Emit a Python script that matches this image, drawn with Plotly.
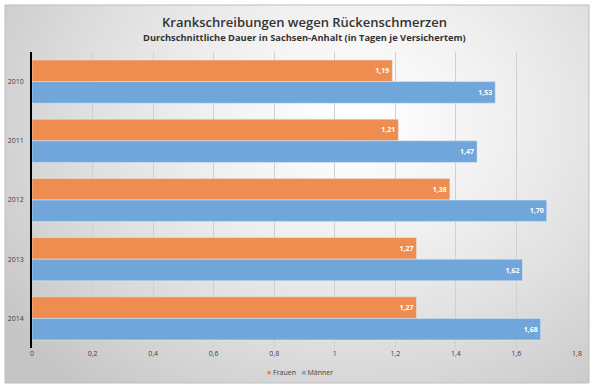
import base64, struct, zlib
import numpy as np
import plotly.graph_objects as go

years = ["2010", "2011", "2012", "2013", "2014"]
frauen = [1.19, 1.21, 1.38, 1.27, 1.27]
maenner = [1.53, 1.47, 1.70, 1.62, 1.68]
x_ticks = [0, 0.2, 0.4, 0.6, 0.8, 1.0, 1.2, 1.4, 1.6, 1.8]
series_names = ["Frauen", "Männer"]
series_colors = ["#EE8D4F", "#70A6DA"]

W, H = 600, 391
L, R, T, B = 32, 23, 52, 43


def gradient_png(w=200, h=130):
    yy, xx = np.mgrid[0:h, 0:w]
    dx = (xx / (w - 1) - 0.6) / 0.75
    dy = (yy / (h - 1) - 0.3) / 0.95
    d = np.clip(np.sqrt(dx ** 2 + dy ** 2), 0, 1)
    v = (255 - 58 * d ** 1.3).astype(np.uint8)
    rows = b"".join(b"\x00" + bytes(np.stack([v[i], v[i], v[i]], axis=1).flatten()) for i in range(h))

    def chunk(t, data):
        c = struct.pack(">I", len(data)) + t + data
        return c + struct.pack(">I", zlib.crc32(t + data) & 0xffffffff)

    png = b"\x89PNG\r\n\x1a\n" + chunk(b"IHDR", struct.pack(">IIBBBBB", w, h, 8, 2, 0, 0, 0)) \
        + chunk(b"IDAT", zlib.compress(rows)) + chunk(b"IEND", b"")
    return "data:image/png;base64," + base64.b64encode(png).decode()


pw, ph = W - L - R, H - T - B


def px_x(p):
    return (p - L) / pw


def px_y(p):
    return (H - B - p) / ph


card_l, card_r, card_t, card_b = 5, 589, 5, 383

font = "Open Sans"
fig = go.Figure()
for name, vals, col in zip(series_names, [frauen, maenner], series_colors):
    fig.add_trace(go.Bar(
        y=years, x=vals, name=name, orientation="h",
        marker=dict(color=col),
        texttemplate="%{x:.2f}", textposition="inside", insidetextanchor="end",
        textfont=dict(color="white", size=7, family=font, weight="bold"),
        showlegend=False,
    ))

legend_text = "   ".join(
    f"<span style='color:{c}'>■</span> {n}" for n, c in zip(series_names, series_colors)
)

fig.update_layout(
    width=W, height=H,
    margin=dict(l=L, r=R, t=T, b=B, autoexpand=False),
    paper_bgcolor="white", plot_bgcolor="rgba(0,0,0,0)",
    separators=",.",
    barmode="group", bargap=0.27, bargroupgap=0,
    font=dict(family=font, color="#404040"),
    title=dict(
        text="Krankschreibungen wegen Rückenschmerzen",
        font=dict(size=13, color="#333333", family=font, weight=600),
        x=0.5, xref="paper", y=1 - 22 / H, yanchor="middle", xanchor="center",
    ),
    annotations=[
        dict(
            text="<b>Durchschnittliche Dauer in Sachsen-Anhalt (in Tagen je Versichertem)</b>",
            xref="paper", yref="paper", x=0.5, y=px_y(38), showarrow=False,
            font=dict(size=9.3, color="#333333", family=font), xanchor="center", yanchor="middle",
        ),
        dict(
            text=legend_text, xref="paper", yref="paper", x=px_x(300), y=px_y(372),
            showarrow=False, font=dict(size=7, color="#404040", family=font),
            xanchor="center", yanchor="middle",
        ),
    ],
    xaxis=dict(
        range=[0, 1.8], tickvals=x_ticks, tickformat=".1~f",
        showgrid=True, gridcolor="#D0D0D0", gridwidth=1,
        zeroline=False, showline=False, ticks="", automargin=False,
        tickfont=dict(size=7, color="#404040", family=font),
    ),
    yaxis=dict(
        autorange="reversed", showline=True, linecolor="black", linewidth=1.5,
        showgrid=False, ticks="", automargin=False,
        tickfont=dict(size=7, color="#404040", family=font),
        ticklabelstandoff=5,
    ),
    images=[dict(
        source=gradient_png(), xref="paper", yref="paper",
        x=px_x(card_l), y=px_y(card_t), sizex=(card_r - card_l) / pw, sizey=(card_b - card_t) / ph,
        sizing="stretch", layer="below", xanchor="left", yanchor="top",
    )],
    shapes=[dict(
        type="rect", xref="paper", yref="paper",
        x0=px_x(card_l), x1=px_x(card_r), y0=px_y(card_b), y1=px_y(card_t),
        line=dict(color="#BDBDBD", width=1), layer="below",
    )],
)

fig.write_html(
    "out.html",
    config={"displayModeBar": False},
    post_script="document.body.style.margin='0';document.body.style.overflow='hidden';",
)
